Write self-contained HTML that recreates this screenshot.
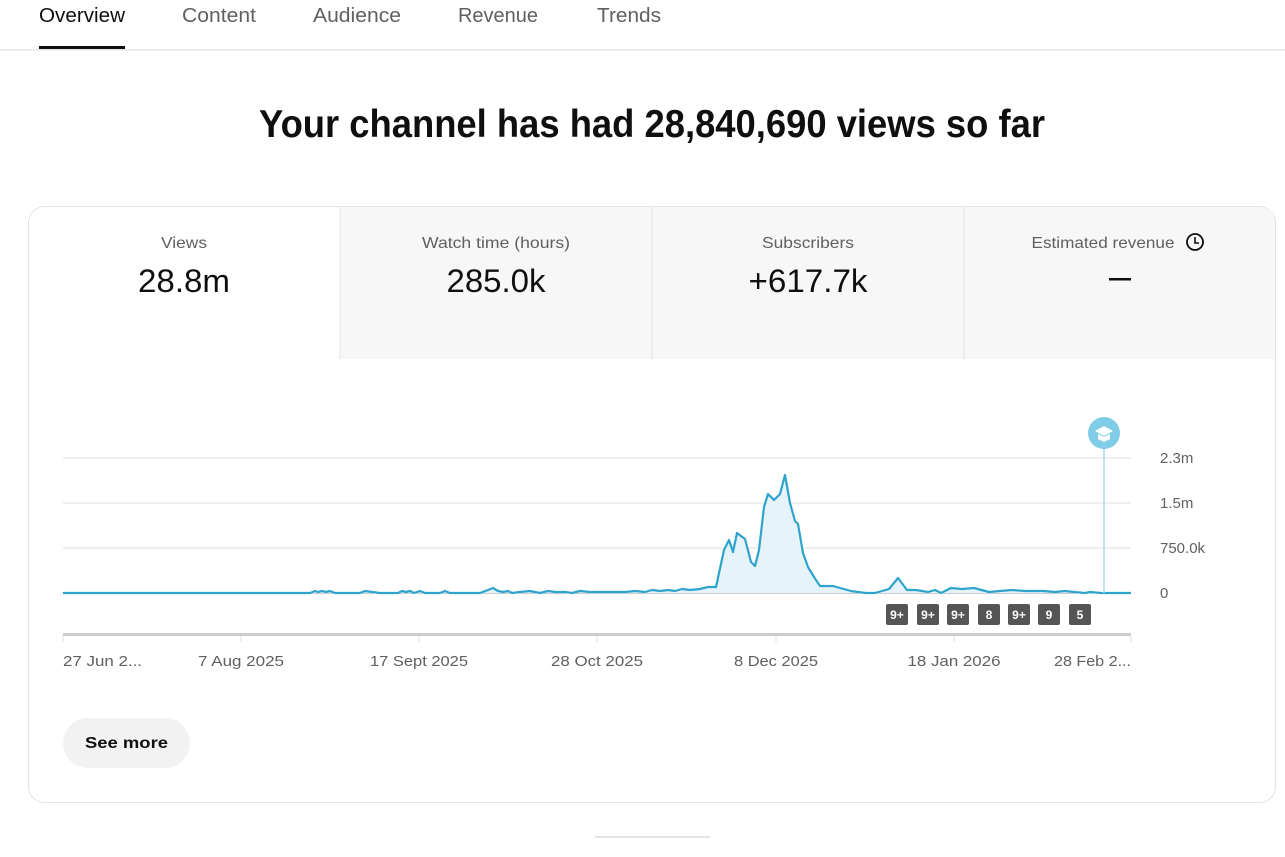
<!DOCTYPE html>
<html><head><meta charset="utf-8"><style>
html,body{margin:0;padding:0;background:#fff;width:1285px;height:857px;overflow:hidden}
svg{display:block;font-family:"Liberation Sans",sans-serif}
</style></head><body>
<svg width="1285" height="857" viewBox="0 0 1285 857" xmlns="http://www.w3.org/2000/svg">
<!-- tabs -->
<text x="39" y="22" font-size="20" fill="#0f0f0f" textLength="86" lengthAdjust="spacingAndGlyphs">Overview</text>
<text x="182" y="22" font-size="20" fill="#606060" textLength="74" lengthAdjust="spacingAndGlyphs">Content</text>
<text x="313" y="22" font-size="20" fill="#606060" textLength="88" lengthAdjust="spacingAndGlyphs">Audience</text>
<text x="458" y="22" font-size="20" fill="#606060" textLength="80" lengthAdjust="spacingAndGlyphs">Revenue</text>
<text x="597" y="22" font-size="20" fill="#606060" textLength="64" lengthAdjust="spacingAndGlyphs">Trends</text>
<rect x="0" y="49" width="1285" height="1.5" fill="#e5e5e5"/>
<rect x="39" y="46" width="86" height="3" fill="#0f0f0f"/>
<!-- title -->
<text x="259" y="137" font-size="39" font-weight="bold" fill="#0f0f0f" textLength="786" lengthAdjust="spacingAndGlyphs">Your channel has had 28,840,690 views so far</text>
<!-- card -->
<rect x="28.5" y="206.5" width="1247" height="596" rx="16" fill="#fff" stroke="#e3e3e3"/>
<path d="M340 207 H1259 Q1275 207 1275 223 V359 H340 Z" fill="#f7f7f7"/>
<line x1="340" y1="207" x2="340" y2="359" stroke="#e3e3e3"/>
<line x1="652" y1="207" x2="652" y2="359" stroke="#e3e3e3"/>
<line x1="964" y1="207" x2="964" y2="359" stroke="#e3e3e3"/>
<g font-size="16" fill="#606060" text-anchor="middle">
<text x="184" y="248" textLength="46" lengthAdjust="spacingAndGlyphs">Views</text>
<text x="496" y="248" textLength="148" lengthAdjust="spacingAndGlyphs">Watch time (hours)</text>
<text x="808" y="248" textLength="92" lengthAdjust="spacingAndGlyphs">Subscribers</text>
<text x="1103" y="248" textLength="143" lengthAdjust="spacingAndGlyphs">Estimated revenue</text>
</g>
<circle cx="1195" cy="242" r="8" fill="none" stroke="#0f0f0f" stroke-width="1.8"/>
<path d="M1195 237 V243 H1199" fill="none" stroke="#0f0f0f" stroke-width="1.6"/>
<g font-size="32" fill="#0f0f0f" text-anchor="middle">
<text x="184" y="292" textLength="92" lengthAdjust="spacingAndGlyphs">28.8m</text>
<text x="496" y="292" textLength="99" lengthAdjust="spacingAndGlyphs">285.0k</text>
<text x="808" y="292" textLength="119" lengthAdjust="spacingAndGlyphs">+617.7k</text>
</g>
<rect x="1109" y="278" width="22" height="2.5" fill="#0f0f0f"/>
<!-- grid -->
<g stroke="#eeeeee" stroke-width="2">
<line x1="63" y1="458" x2="1131" y2="458"/>
<line x1="63" y1="503" x2="1131" y2="503"/>
<line x1="63" y1="548" x2="1131" y2="548"/>
</g>
<line x1="63" y1="593" x2="1131" y2="593" stroke="#999" stroke-width="1"/>
<g font-size="15" fill="#606060">
<text x="1160" y="463">2.3m</text>
<text x="1160" y="508">1.5m</text>
<text x="1160" y="553">750.0k</text>
<text x="1160" y="598">0</text>
</g>
<!-- series -->
<path d="M63 593 L310 593 L315 591 L318 592 L322 591 L326 592 L330 591 L335 593 L360 593 L365 591 L372 592 L380 593 L398 593 L402 591 L406 592 L410 591 L414 593 L420 591 L425 593 L440 593 L445 591 L450 593 L480 593 L488 590 L493 588 L498 591 L503 592 L508 591 L512 593 L520 592 L530 591 L540 593 L548 591 L555 592 L565 592 L572 593 L580 591 L590 592 L600 592 L615 592 L625 592 L635 591 L645 592 L652 590 L660 591 L668 590 L675 591 L682 589 L690 590 L700 589 L708 587 L716 587 L724 550 L729 540 L733 552 L737 533 L745 539 L751 562 L755 566 L759 550 L764 507 L768 494 L774 500 L780 494 L785 475 L790 503 L795 521 L798 524 L803 553 L808 567 L814 577 L820 586 L833 586 L851 591 L858 592 L866 593 L875 593 L889 589 L898 578 L907 590 L916 590 L928 592 L935 590 L941 593 L951 588 L962 589 L974 588 L989 592 L1000 591 L1012 590 L1025 591 L1043 591 L1055 592 L1065 591 L1074 592 L1085 593 L1090 592 L1101 593 L1131 593 L1131 593 L63 593 Z" fill="#e6f3fa" stroke="none"/>
<path d="M63 593 L310 593 L315 591 L318 592 L322 591 L326 592 L330 591 L335 593 L360 593 L365 591 L372 592 L380 593 L398 593 L402 591 L406 592 L410 591 L414 593 L420 591 L425 593 L440 593 L445 591 L450 593 L480 593 L488 590 L493 588 L498 591 L503 592 L508 591 L512 593 L520 592 L530 591 L540 593 L548 591 L555 592 L565 592 L572 593 L580 591 L590 592 L600 592 L615 592 L625 592 L635 591 L645 592 L652 590 L660 591 L668 590 L675 591 L682 589 L690 590 L700 589 L708 587 L716 587 L724 550 L729 540 L733 552 L737 533 L745 539 L751 562 L755 566 L759 550 L764 507 L768 494 L774 500 L780 494 L785 475 L790 503 L795 521 L798 524 L803 553 L808 567 L814 577 L820 586 L833 586 L851 591 L858 592 L866 593 L875 593 L889 589 L898 578 L907 590 L916 590 L928 592 L935 590 L941 593 L951 588 L962 589 L974 588 L989 592 L1000 591 L1012 590 L1025 591 L1043 591 L1055 592 L1065 591 L1074 592 L1085 593 L1090 592 L1101 593 L1131 593" fill="none" stroke="#2ea3cc" stroke-width="2.2" stroke-linejoin="round"/>
<!-- marker -->
<line x1="1104" y1="447" x2="1104" y2="593" stroke="#a8dcef" stroke-width="1.5"/>
<circle cx="1104" cy="433" r="16" fill="#7fcde6"/>
<path d="M1095 431 L1104 426 L1113 431 L1104 436 Z" fill="#fff"/>
<path d="M1098 434 V439 L1104 442 L1110 439 V434 L1104 437 Z" fill="#fff"/>
<!-- badges -->
<g font-size="12" fill="#fff" text-anchor="middle" font-weight="bold">
<rect x="886" y="604" width="22" height="21" rx="2" fill="#555"/><text x="897" y="619">9+</text>
<rect x="917" y="604" width="22" height="21" rx="2" fill="#555"/><text x="928" y="619">9+</text>
<rect x="947" y="604" width="22" height="21" rx="2" fill="#555"/><text x="958" y="619">9+</text>
<rect x="978" y="604" width="22" height="21" rx="2" fill="#555"/><text x="989" y="619">8</text>
<rect x="1008" y="604" width="22" height="21" rx="2" fill="#555"/><text x="1019" y="619">9+</text>
<rect x="1038" y="604" width="22" height="21" rx="2" fill="#555"/><text x="1049" y="619">9</text>
<rect x="1069" y="604" width="22" height="21" rx="2" fill="#555"/><text x="1080" y="619">5</text>
</g>
<!-- x axis -->
<rect x="63" y="633" width="1068" height="3" fill="#ccc"/>
<g stroke="#ddd" stroke-width="1">
<line x1="63" y1="636" x2="63" y2="642"/><line x1="241" y1="636" x2="241" y2="642"/><line x1="419" y1="636" x2="419" y2="642"/><line x1="597" y1="636" x2="597" y2="642"/><line x1="776" y1="636" x2="776" y2="642"/><line x1="954" y1="636" x2="954" y2="642"/><line x1="1131" y1="636" x2="1131" y2="642"/>
</g>
<g font-size="15" fill="#606060">
<text x="63" y="666" textLength="79" lengthAdjust="spacingAndGlyphs">27 Jun 2...</text>
<text x="241" y="666" text-anchor="middle" textLength="86" lengthAdjust="spacingAndGlyphs">7 Aug 2025</text>
<text x="419" y="666" text-anchor="middle" textLength="98" lengthAdjust="spacingAndGlyphs">17 Sept 2025</text>
<text x="597" y="666" text-anchor="middle" textLength="92" lengthAdjust="spacingAndGlyphs">28 Oct 2025</text>
<text x="776" y="666" text-anchor="middle" textLength="84" lengthAdjust="spacingAndGlyphs">8 Dec 2025</text>
<text x="954" y="666" text-anchor="middle" textLength="93" lengthAdjust="spacingAndGlyphs">18 Jan 2026</text>
<text x="1131" y="666" text-anchor="end" textLength="77" lengthAdjust="spacingAndGlyphs">28 Feb 2...</text>
</g>
<!-- see more -->
<rect x="63" y="718" width="127" height="50" rx="25" fill="#f2f2f2"/>
<text x="126.5" y="748" font-size="16" font-weight="bold" fill="#0f0f0f" text-anchor="middle" textLength="83" lengthAdjust="spacingAndGlyphs">See more</text>
<rect x="595" y="836" width="115" height="2" fill="#e5e5e5"/>
</svg>
</body></html>
